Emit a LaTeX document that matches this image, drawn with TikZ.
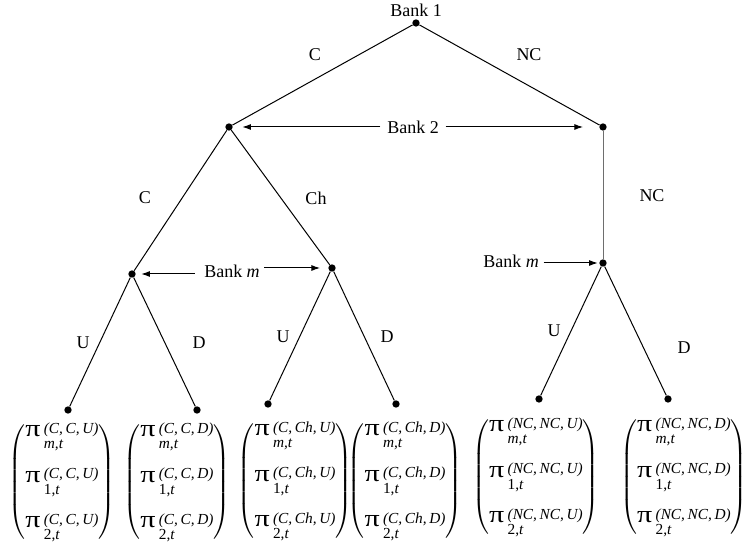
\documentclass[tikz,border=0pt]{standalone}
\usepackage{amsmath}
\usepackage{graphicx}
\usepackage{fontspec}
\setmainfont{Liberation Serif}
\usetikzlibrary{arrows.meta}
\definecolor{vline}{RGB}{110,110,110}
\newcommand{\supfont}{\fontsize{11.5}{11.5}\selectfont\itshape}
\newcommand{\bigpi}{\scalebox{1.25}[1]{\fontsize{18}{18}\selectfont π}}
\newcommand{\pe}[2]{\mbox{\bigpi\kern2.5pt\rlap{\raisebox{-9pt}{\supfont #2}}\raisebox{2.5pt}{\supfont #1}}}
\newcommand{\pvec}[1]{$\setlength{\arraycolsep}{2.5pt}\begin{pmatrix}\pe{#1}{m,t}\\[18pt]\pe{#1}{\upshape 1,\itshape t}\\[18pt]\pe{#1}{\upshape 2,\itshape t}\end{pmatrix}$}
\tikzset{
  dot/.style={circle,fill=black,inner sep=0pt,minimum size=5.5pt},
  lbl/.style={inner sep=0pt,font=\fontsize{13.5}{16}\selectfont},
  bank/.style={inner xsep=5pt,inner ysep=0pt,font=\fontsize{13.5}{16}\selectfont},
  edge/.style={line width=0.75pt},
  arr/.style={line width=0.75pt,-{Latex[length=6.5pt,width=4.5pt]}},
  mat/.style={inner sep=0pt,font=\fontsize{13.5}{16}\selectfont}
}
\begin{document}
\begin{tikzpicture}[x=0.75pt,y=-0.75pt]
\useasboundingbox (0,0) rectangle (747,552);
% dots
\node[dot] (r) at (416,23) {};
\node[dot] (a) at (229,127) {};
\node[dot] (b) at (603,127) {};
\node[dot] (aa) at (132,274) {};
\node[dot] (ab) at (332,268) {};
\node[dot] (bb) at (603,263) {};
\node[dot] (l1) at (68,410) {};
\node[dot] (l2) at (197,410) {};
\node[dot] (l3) at (268,404) {};
\node[dot] (l4) at (396,404) {};
\node[dot] (l5) at (539,399) {};
\node[dot] (l6) at (668,399) {};
% edges
\draw[edge] (r) -- (a);
\draw[edge] (r) -- (b);
\draw[edge] (a) -- (aa);
\draw[edge] (a) -- (ab);
\draw[edge,vline] (b) -- (bb);
\draw[edge] (aa) -- (l1);
\draw[edge] (aa) -- (l2);
\draw[edge] (ab) -- (l3);
\draw[edge] (ab) -- (l4);
\draw[edge] (bb) -- (l5);
\draw[edge] (bb) -- (l6);
% labels
\node[lbl] (t1) at (416,10) {Bank 1};
\node[lbl] (c1) at (315,55) {C};
\node[lbl] (nc1) at (529,55) {NC};
\node[lbl] (c2) at (145,198) {C};
\node[lbl] (ch2) at (316,198) {Ch};
\node[lbl] (nc2) at (652,196) {NC};
\node[lbl] (u1) at (83,343) {U};
\node[lbl] (d1) at (199,343) {D};
\node[lbl] (u2) at (283,337) {U};
\node[lbl] (d2) at (387,337) {D};
\node[lbl] (u3) at (554,331) {U};
\node[lbl] (d3) at (684,348) {D};
% bank arrows
\node[bank] (b2) at (413,127) {Bank 2};
\draw[arr,shorten >=7pt] (b2.west) -- (a);
\draw[arr,shorten >=12pt] (b2.east) -- (b);
\node[bank,inner xsep=0pt] (bm1) at (232,271) {Bank \textit{m}};
\draw[arr,shorten >=4pt] ([xshift=-7pt]bm1.west |- aa) -- (aa);
\draw[arr,shorten >=6pt] ([xshift=3pt]bm1.east |- ab) -- (ab);
\node[bank,inner xsep=0pt] (bm2) at (511,261) {Bank \textit{m}};
\draw[arr,shorten >=1pt] ([xshift=3.5pt]bm2.east |- bb) -- (bb);
% vectors
\node[mat] (m1) at (62,482) {\pvec{(C,\kern2pt C,\kern2pt U)}};
\node[mat] (m2) at (177,482) {\pvec{(C,\kern2pt C,\kern2pt D)}};
\node[mat] (m3) at (295,481) {\pvec{(C,\kern2pt Ch,\kern2pt U)}};
\node[mat] (m4) at (405,481) {\pvec{(C,\kern2pt Ch,\kern2pt D)}};
\node[mat] (m5) at (536,477) {\pvec{(NC,\kern2pt NC,\kern2pt U)}};
\node[mat] (m6) at (684,477) {\pvec{(NC,\kern2pt NC,\kern2pt D)}};
\end{tikzpicture}
\end{document}
